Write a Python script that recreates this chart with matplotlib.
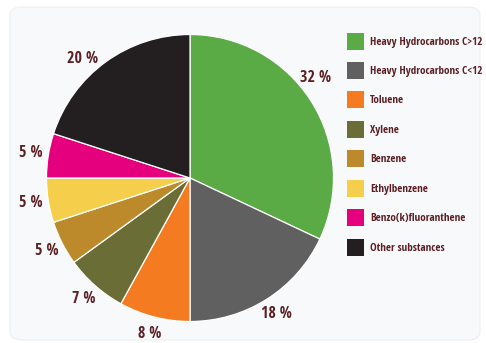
import numpy as np
import matplotlib.pyplot as plt
from matplotlib.patches import FancyBboxPatch, Patch

# Composition by substance (percent)
substances = ['Heavy Hydrocarbons C>12', 'Heavy Hydrocarbons C<12', 'Toluene', 'Xylene',
              'Benzene', 'Ethylbenzene', 'Benzo(k)fluoranthene', 'Other substances']
shares = [32, 18, 8, 7, 5, 5, 5, 20]
colors = ['#5aaa46', '#5f605f', '#f47b20', '#6b6d37', '#bc8a2a', '#f5cf4b', '#e5007e', '#231f20']
text_color = '#5b1f24'
family = ['Open Sans Condensed', 'Roboto Condensed', 'DejaVu Sans']

fig = plt.figure(figsize=(4.86, 3.43), dpi=100)
fig.patch.set_facecolor('white')

# rounded panel behind the chart
panel = FancyBboxPatch((10 / 486, 3 / 343), 470 / 486, 333 / 343,
                       boxstyle='round,pad=0,rounding_size=0.025',
                       transform=fig.transFigure, facecolor='#f8f9fb',
                       edgecolor='#eceef2', linewidth=0.8, zorder=-10)
fig.patches.append(panel)

ax = fig.add_axes([46.5 / 486, 21.5 / 343, 287 / 486, 287 / 343], zorder=1)
ax.patch.set_visible(False)
wedges, _ = ax.pie(shares, colors=colors, startangle=90, counterclock=False,
                   wedgeprops=dict(edgecolor='white', linewidth=0.9))

# percentage labels just outside each wedge; the two big slices get a small nudge
nudge = {0: 6, 7: 6}
for i, (w, s) in enumerate(zip(wedges, shares)):
    ang = np.deg2rad((w.theta1 + w.theta2) / 2 + nudge.get(i, 0))
    ax.text(1.12 * np.cos(ang), 1.12 * np.sin(ang), f'{s} %', color=text_color,
            fontsize=11.5, fontweight='bold', family=family, ha='center', va='center')
ax.set_xlim(-1, 1)
ax.set_ylim(-1, 1)
ax.set_aspect('equal')

handles = [Patch(facecolor=c, edgecolor='none') for c in colors]
leg = fig.legend(handles, substances, loc='upper left', bbox_to_anchor=(337 / 486, 1 - 22.5 / 343),
                 frameon=False, handlelength=1.53, handleheight=1.98, handletextpad=0.54,
                 labelspacing=1.12, prop=dict(family=family, weight='bold', size=8))
for t in leg.get_texts():
    t.set_color(text_color)

fig.savefig('out.png', dpi=100)
